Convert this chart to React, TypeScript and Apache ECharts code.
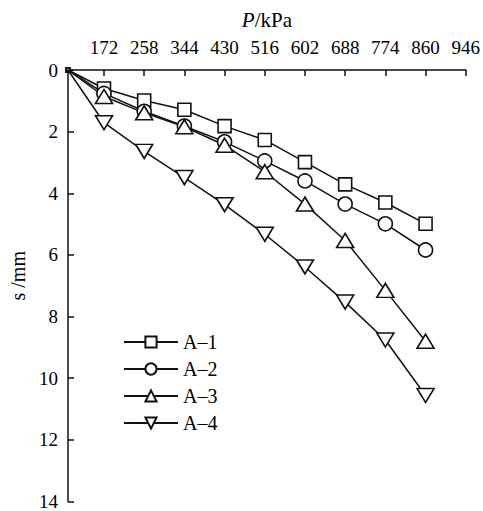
import React, { useEffect, useRef } from "react";
import * as echarts from "echarts";

const AXIS_START = 95;
const P_VALUES = [AXIS_START, 172, 258, 344, 430, 516, 602, 688, 774, 860];
const X_TICKS = [172, 258, 344, 430, 516, 602, 688, 774, 860, 946];
const SERIES_NAMES = ["A–1", "A–2", "A–3", "A–4"];
const A1 = [0, 0.6, 0.99, 1.29, 1.82, 2.27, 2.99, 3.71, 4.3, 4.99];
const A2 = [0, 0.76, 1.34, 1.82, 2.33, 2.95, 3.6, 4.35, 4.99, 5.84];
const A3 = [0, 0.86, 1.39, 1.84, 2.44, 3.3, 4.35, 5.53, 7.15, 8.8];
const A4 = [0, 1.71, 2.64, 3.49, 4.37, 5.33, 6.39, 7.53, 8.76, 10.56];

const FONT = "'Liberation Serif', 'Times New Roman', serif";
const INK = "#000";

export default function App() {
  const ref = useRef<HTMLDivElement>(null);
  useEffect(() => {
    if (!ref.current) return;
    const chart = echarts.init(ref.current, undefined, { renderer: "svg" });
    const symbols: any[] = [
      { symbol: "rect", size: [13, 13], rotate: 0 },
      { symbol: "circle", size: 14, rotate: 0 },
      { symbol: "triangle", size: [17, 14], rotate: 0 },
      { symbol: "triangle", size: [17, 14], rotate: 180 },
    ];
    const all = [A1, A2, A3, A4];
    const series = all.map((vals, i) => ({
      name: SERIES_NAMES[i],
      type: "line",
      data: vals.map((v, j) =>
        j === 0
          ? { value: [P_VALUES[j], v], symbolSize: 4 }
          : { value: [P_VALUES[j], v] }
      ),
      symbol: symbols[i].symbol,
      symbolSize: symbols[i].size,
      symbolRotate: symbols[i].rotate,
      showAllSymbol: true,
      clip: false,
      lineStyle: { color: "#111", width: 1.5 },
      itemStyle: { color: "#fff", borderColor: "#111", borderWidth: 1.6 },
      emphasis: { disabled: true },
    }));
    chart.setOption({
      animation: false,
      textStyle: { fontFamily: FONT, color: INK },
      grid: { left: 60, right: 16, top: 70, bottom: 2, containLabel: false },
      legend: {
        orient: "vertical",
        left: 123,
        top: 332,
        padding: 0,
        itemWidth: 54,
        itemHeight: 14,
        itemGap: 7,
        textStyle: { fontFamily: FONT, fontSize: 20, color: INK, lineHeight: 20 },
        data: SERIES_NAMES,
      },
      xAxis: {
        type: "value",
        position: "top",
        min: AXIS_START,
        max: 946,
        name: "{i|P}/kPa",
        nameLocation: "middle",
        nameGap: 40,
        nameTextStyle: {
          fontFamily: FONT,
          fontSize: 21,
          color: INK,
          rich: {
            i: { fontFamily: FONT, fontSize: 21, fontStyle: "italic", color: INK },
          },
        },
        axisLine: { show: true, lineStyle: { color: "#111", width: 1.5 } },
        axisTick: {
          show: true,
          inside: true,
          length: 6,
          customValues: X_TICKS,
          lineStyle: { color: "#111", width: 1.5 },
        },
        axisLabel: {
          customValues: X_TICKS,
          fontFamily: FONT,
          fontSize: 19,
          color: INK,
          margin: 13,
        },
        splitLine: { show: false },
      },
      yAxis: {
        type: "value",
        inverse: true,
        min: 0,
        max: 14,
        interval: 2,
        name: "s /mm",
        nameLocation: "middle",
        nameRotate: 90,
        nameGap: 40,
        nameTextStyle: { fontFamily: FONT, fontSize: 20, color: INK, padding: [0, 0, 0, 20] },
        axisLine: { show: true, lineStyle: { color: "#111", width: 1.5 } },
        axisTick: { show: true, inside: true, length: 6, lineStyle: { color: "#111", width: 1.5 } },
        axisLabel: { fontFamily: FONT, fontSize: 19, color: INK, margin: 10 },
        splitLine: { show: false },
      },
      series,
    });
    return () => chart.dispose();
  }, []);
  return (
    <div
      ref={ref}
      style={{ position: "absolute", left: 0, top: 0, width: 483, height: 511 }}
    />
  );
}
